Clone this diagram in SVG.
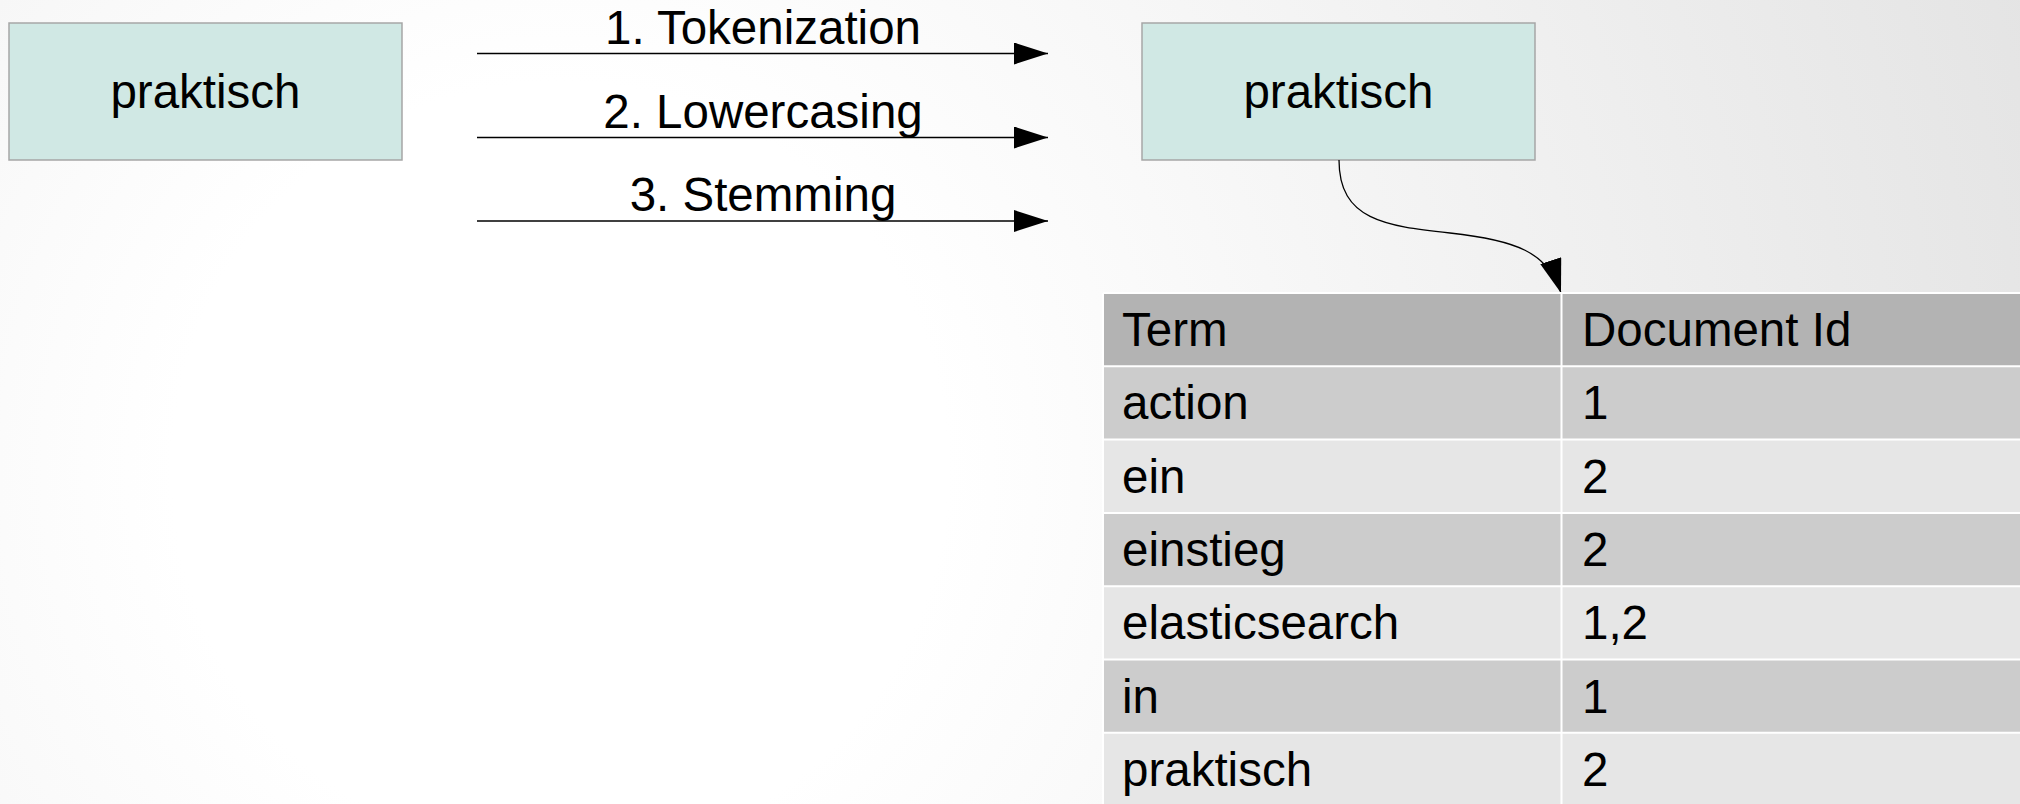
<svg xmlns="http://www.w3.org/2000/svg" width="2020" height="804" viewBox="0 0 2020 804">
<defs>
<radialGradient id="bg" cx="560" cy="470" r="1550" gradientUnits="userSpaceOnUse">
<stop offset="0" stop-color="#ffffff"/>
<stop offset="0.25" stop-color="#ffffff"/>
<stop offset="1" stop-color="#e4e4e4"/>
</radialGradient>
<marker id="arr" markerUnits="userSpaceOnUse" markerWidth="36" markerHeight="24" refX="34" refY="11" orient="auto" viewBox="0 0 36 24">
<path d="M0,0 L34,11 L0,22 Z" fill="#000"/>
</marker>
</defs>
<style>
text{font-family:"Liberation Sans",Arial,sans-serif;font-size:47.5px;fill:#000}
.box{fill:#d0e8e4;stroke:#a6a6a6;stroke-width:1.5}
.conn{fill:none;stroke:#000;stroke-width:1.3}
.hd{fill:#b3b3b3}
.odd{fill:#cccccc}
.even{fill:#e6e6e6}
.grid{stroke:#ffffff;stroke-width:2;fill:none}
</style>
<rect x="0" y="0" width="2020" height="804" fill="url(#bg)"/>
<g id="node-source">
<rect class="box" x="9" y="23" width="393" height="137"/>
<text x="205.5" y="108" text-anchor="middle">praktisch</text>
</g>
<g id="node-result">
<rect class="box" x="1142" y="23" width="393" height="137"/>
<text x="1338.5" y="108" text-anchor="middle">praktisch</text>
</g>
<g id="connectors">
<line class="conn" x1="477" y1="53.5" x2="1048" y2="53.5" marker-end="url(#arr)"/>
<line class="conn" x1="477" y1="137.5" x2="1048" y2="137.5" marker-end="url(#arr)"/>
<line class="conn" x1="477" y1="221" x2="1048" y2="221" marker-end="url(#arr)"/>
<path class="conn" d="M1339,160 C1339,220 1385,226 1450,233 C1515,240 1548,252 1561,293" marker-end="url(#arr)"/>
<text x="763" y="44" text-anchor="middle">1. Tokenization</text>
<text x="763" y="128" text-anchor="middle">2. Lowercasing</text>
<text x="763" y="211" text-anchor="middle">3. Stemming</text>
</g>
<g id="table">
<rect class="hd" x="1103" y="293" width="917" height="73.3"/>
<rect class="odd" x="1103" y="366.3" width="917" height="73.3"/>
<rect class="even" x="1103" y="439.6" width="917" height="73.3"/>
<rect class="odd" x="1103" y="512.9" width="917" height="73.3"/>
<rect class="even" x="1103" y="586.2" width="917" height="73.3"/>
<rect class="odd" x="1103" y="659.5" width="917" height="73.3"/>
<rect class="even" x="1103" y="732.8" width="917" height="73.3"/>
<path class="grid" d="M1103,293 H2020 M1103,366.3 H2020 M1103,439.6 H2020 M1103,512.9 H2020 M1103,586.2 H2020 M1103,659.5 H2020 M1103,732.8 H2020 M1103,293 V804 M1561.5,293 V804"/>
<text x="1122" y="346">Term</text>
<text x="1582" y="346">Document Id</text>
<text x="1122" y="419.3">action</text>
<text x="1582" y="419.3">1</text>
<text x="1122" y="492.6">ein</text>
<text x="1582" y="492.6">2</text>
<text x="1122" y="565.9">einstieg</text>
<text x="1582" y="565.9">2</text>
<text x="1122" y="639.2">elasticsearch</text>
<text x="1582" y="639.2">1,2</text>
<text x="1122" y="712.5">in</text>
<text x="1582" y="712.5">1</text>
<text x="1122" y="785.8">praktisch</text>
<text x="1582" y="785.8">2</text>
</g>
</svg>
